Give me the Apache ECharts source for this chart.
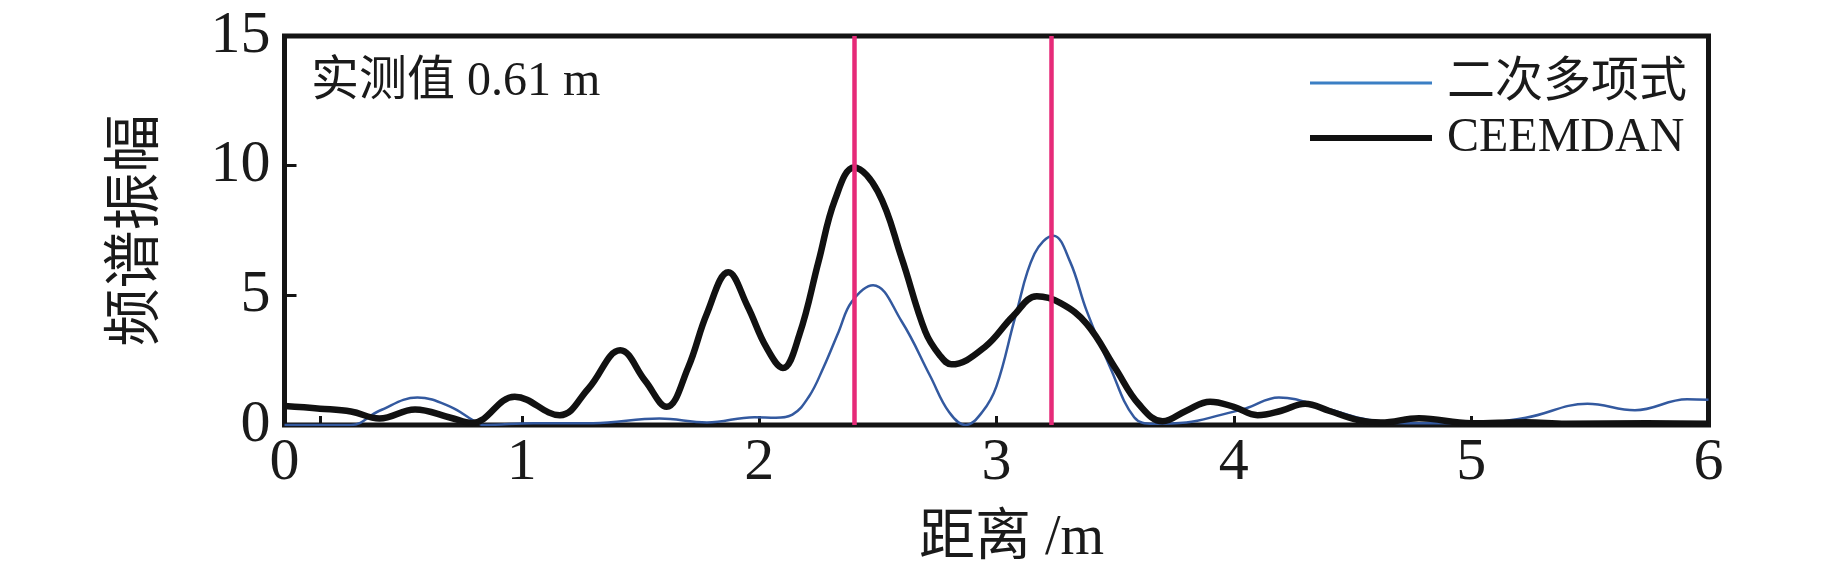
<!DOCTYPE html>
<html>
<head>
<meta charset="utf-8">
<title>频谱振幅</title>
<script src="https://cdn.jsdelivr.net/npm/echarts@6/dist/echarts.min.js"></script>
<style>
  html, body {
    margin: 0;
    padding: 0;
    background: #ffffff;
  }
  #chart {
    width: 1843px;
    height: 577px;
  }
</style>
</head>
<body>
<div id="chart"></div>
<script>
// 二次多项式 curve (距离 m, 振幅)
const polyX = [0, 0.28, 0.40, 0.56, 0.70, 0.80, 0.84, 1.05, 1.30, 1.58, 1.78, 1.98, 2.07, 2.14, 2.21, 2.27, 2.335, 2.39, 2.48, 2.60, 2.72, 2.80, 2.87, 2.94, 3.00, 3.08, 3.16, 3.24, 3.31, 3.38, 3.48, 3.58, 3.66, 3.80, 3.95, 4.05, 4.19, 4.39, 4.56, 4.73, 5.00, 5.23, 5.49, 5.69, 5.91, 6.00];
const polyY = [0, 0, 0.55, 1.06, 0.70, 0.15, 0, 0.07, 0.07, 0.25, 0.10, 0.30, 0.28, 0.40, 1.10, 2.20, 3.60, 4.75, 5.39, 4.00, 1.90, 0.50, 0, 0.50, 1.50, 4.20, 6.60, 7.30, 6.30, 4.40, 2.20, 0.30, 0.05, 0.10, 0.40, 0.64, 1.06, 0.64, 0.21, 0.07, 0.07, 0.28, 0.82, 0.57, 0.99, 0.97];

// CEEMDAN curve
const ceemdanX = [0, 0.15, 0.28, 0.40, 0.55, 0.70, 0.79, 0.97, 1.16, 1.28, 1.415, 1.52, 1.61, 1.70, 1.78, 1.87, 1.95, 2.03, 2.10, 2.17, 2.25, 2.32, 2.40, 2.50, 2.60, 2.70, 2.76, 2.81, 2.95, 3.07, 3.17, 3.27, 3.38, 3.50, 3.60, 3.70, 3.80, 3.90, 4.00, 4.10, 4.20, 4.30, 4.40, 4.52, 4.62, 4.78, 5.00, 5.23, 5.40, 5.74, 6.00];
const ceemdanY = [0.73, 0.63, 0.52, 0.25, 0.60, 0.28, 0.08, 1.09, 0.38, 1.40, 2.88, 1.70, 0.70, 2.20, 4.30, 5.89, 4.60, 3.00, 2.20, 3.50, 6.30, 8.70, 9.93, 9.00, 6.45, 3.60, 2.70, 2.34, 3.00, 4.20, 4.96, 4.70, 3.90, 2.20, 0.80, 0.14, 0.55, 0.90, 0.70, 0.38, 0.55, 0.82, 0.55, 0.20, 0.10, 0.26, 0.07, 0.11, 0.05, 0.07, 0.05];

// 实测峰位 (红线)
const markX = [2.395, 3.227];

const xTicks = [0.15, 1, 2, 3, 4, 5];
const seriesNames = ['二次多项式', 'CEEMDAN'];

const toPairs = (xs, ys) => xs.map((x, i) => [x, ys[i]]);

const serif = '"Liberation Serif", "Times New Roman", "Noto Sans CJK SC"';

const chart = echarts.init(document.getElementById('chart'));
const option = {
  animation: false,
  backgroundColor: '#ffffff',
  grid: {
    left: 284.5,
    right: 134.5,
    top: 36,
    bottom: 152,
    show: true,
    borderColor: '#141414',
    borderWidth: 5
  },
  legend: {
    orient: 'vertical',
    left: 1305,
    top: 54,
    itemWidth: 122,
    itemHeight: 14,
    itemGap: 7,
    symbolKeepAspect: true,
    data: [
      {name: seriesNames[0], icon: 'path://M0,0H122V3H0Z', itemStyle: {color: '#3b7fc4'}},
      {name: seriesNames[1], icon: 'path://M0,0H122V6H0Z', itemStyle: {color: '#111111'}}
    ],
    textStyle: {
      fontFamily: serif,
      fontSize: 48,
      lineHeight: 48,
      color: '#1a1a1a',
      padding: [0, 0, 0, 10]
    }
  },
  graphic: [
    {
      type: 'text',
      left: 311,
      top: 58,
      style: {
        text: '实测值 0.61 m',
        font: '48px ' + serif,
        fill: '#1a1a1a'
      }
    }
  ],
  xAxis: {
    type: 'value',
    min: 0,
    max: 6,
    interval: 1,
    name: '距离 /m',
    nameLocation: 'middle',
    nameGap: 86,
    nameTextStyle: {
      fontFamily: serif,
      fontSize: 56,
      color: '#1a1a1a',
      padding: [0, 0, 0, 30]
    },
    axisLine: {show: false},
    axisTick: {
      show: true,
      inside: true,
      length: 9,
      customValues: xTicks,
      lineStyle: {color: '#141414', width: 3}
    },
    axisLabel: {
      fontFamily: serif,
      fontSize: 60,
      color: '#1a1a1a',
      margin: 8
    },
    splitLine: {show: false}
  },
  yAxis: {
    type: 'value',
    min: 0,
    max: 15,
    interval: 5,
    name: '频谱振幅',
    nameLocation: 'middle',
    nameGap: 118,
    nameTextStyle: {
      fontFamily: serif,
      fontSize: 58,
      color: '#1a1a1a'
    },
    axisLine: {show: false},
    axisTick: {
      show: true,
      inside: true,
      length: 12,
      lineStyle: {color: '#141414', width: 3}
    },
    axisLabel: {
      fontFamily: serif,
      fontSize: 60,
      color: '#1a1a1a',
      margin: 14
    },
    splitLine: {show: false}
  },
  series: [
    {
      name: seriesNames[0],
      type: 'line',
      symbol: 'none',
      smooth: 0.4,
      z: 3,
      lineStyle: {color: '#33599f', width: 2.5},
      itemStyle: {color: '#3b7fc4'},
      data: toPairs(polyX, polyY)
    },
    {
      name: seriesNames[1],
      type: 'line',
      symbol: 'none',
      smooth: 0.4,
      z: 4,
      lineStyle: {color: '#111111', width: 6.5},
      itemStyle: {color: '#111111'},
      data: toPairs(ceemdanX, ceemdanY)
    },
    {
      name: 'mark',
      type: 'line',
      data: [],
      z: 5,
      markLine: {
        silent: true,
        symbol: 'none',
        label: {show: false},
        lineStyle: {color: '#e62a78', width: 4.5, type: 'solid'},
        data: markX.map(x => ({xAxis: x}))
      }
    }
  ]
};
chart.setOption(option);
</script>
</body>
</html>
